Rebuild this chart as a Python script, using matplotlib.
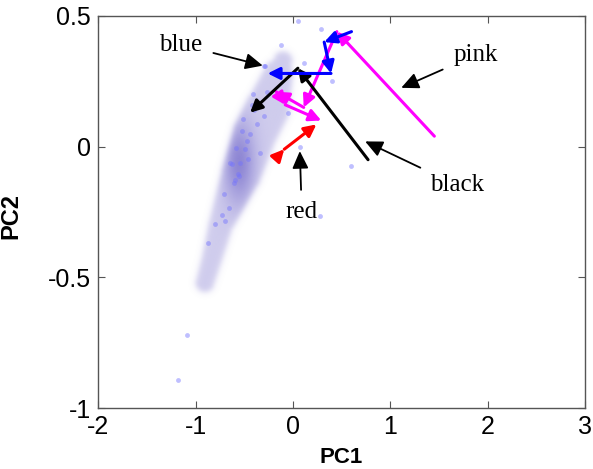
import numpy as np
import matplotlib
matplotlib.use('Agg')
import matplotlib.pyplot as plt

# trajectories in PC space (PC1, PC2)
blue_x = [0.60, 0.32, 0.39, -0.26]
blue_y = [0.44, 0.40, 0.28, 0.28]
pink_x = [1.45, 0.45, 0.11, -0.17, -0.08, 0.29]
pink_y = [0.04, 0.44, 0.15, 0.21, 0.16, 0.10]
red_x = [-0.15, -0.09, 0.24]
red_y = [-0.035, -0.01, 0.085]
black_x = [0.77, 0.05, -0.44]
black_y = [-0.05, 0.30, 0.13]

# annotation labels
labels = ['blue', 'pink', 'black', 'red']
label_x = [-1.15, 1.87, 1.68, 0.09]
label_y = [0.39, 0.35, -0.147, -0.25]
tip_x = [-0.31, 1.11, 0.74, 0.07]
tip_y = [0.31, 0.225, 0.02, -0.017]

# background samples
pts_x = [0.05, 0.29, -0.12, 0.11, -0.30, 0.40, -0.05, 0.07, 0.60, 0.28,
         -0.41, -0.51, -0.30, -0.37, -0.44, -0.47, -0.58, -0.49, -0.34, -0.65,
         -0.56, -0.61, -0.71, -0.66, -0.73, -0.70, -0.80, -0.54, -0.63, -0.46,
         -0.55, -0.59, -0.87, -0.27, -0.29, -1.09, -1.18, -0.42, -0.52, -0.40]
pts_y = [0.48, 0.45, 0.39, 0.32, 0.31, 0.25, 0.13, 0.00, -0.075, -0.266,
         0.20, 0.104, 0.117, 0.085, 0.047, 0.02, -0.005, -0.01, -0.024, -0.062,
         -0.106, -0.138, -0.183, -0.234, -0.262, -0.285, -0.295, -0.062, -0.066, -0.049,
         -0.113, -0.126, -0.368, 0.21, 0.31, -0.72, -0.894, 0.16, 0.06, 0.14]

# density ridge of the sample cloud (centre line and half width in px)
ridge_x = [-0.91, -0.84, -0.75, -0.54, -0.40, -0.27, -0.16, -0.11]
ridge_y = [-0.52, -0.43, -0.30, -0.105, 0.05, 0.147, 0.277, 0.33]
ridge_w = [9, 10, 12, 20, 22, 22, 15, 9]

fig = plt.figure(figsize=(5.93, 4.69), dpi=100)
ax = fig.add_axes([0.1653, 0.130, 0.822, 0.836])
ax.set_xlim(-2, 3)
ax.set_ylim(-1, 0.5)

# blob: distance from ridge polyline (y stretched to match screen aspect)
sy = 261.5 / 97.5
gx, gy = np.meshgrid(np.linspace(-1.4, 0.4, 500), np.linspace(-0.75, 0.5, 500))
d = np.full(gx.shape, 1e9)
w = np.zeros(gx.shape)
for i in range(len(ridge_x) - 1):
    ax0, ay0 = ridge_x[i], ridge_y[i] * sy
    bx0, by0 = ridge_x[i + 1], ridge_y[i + 1] * sy
    vx, vy = bx0 - ax0, by0 - ay0
    t = ((gx - ax0) * vx + (gy * sy - ay0) * vy) / (vx * vx + vy * vy)
    t = np.clip(t, 0, 1)
    dd = np.hypot(gx - (ax0 + t * vx), gy * sy - (ay0 + t * vy)) * 97.5
    ww = ridge_w[i] + t * (ridge_w[i + 1] - ridge_w[i])
    closer = dd - ww < d - w
    d = np.where(closer, dd, d)
    w = np.where(closer, ww, w)
edge = 1 / (1 + np.exp((d - w) / 1.8))
dc = np.hypot((gx + 0.56) * 97.5 / 1.0, (gy + 0.06) * 261.5 / 2.6)
core = edge * np.exp(-(dc / 16) ** 2)
rgba = np.zeros(gx.shape + (4,))
rgba[..., 0] = 110 / 255
rgba[..., 1] = 100 / 255
rgba[..., 2] = 200 / 255
rgba[..., 3] = np.clip(0.33 * edge + 0.45 * core, 0, 1)
ax.imshow(rgba, extent=[-1.4, 0.4, -0.75, 0.5], origin='lower',
          aspect='auto', interpolation='bilinear', zorder=1)

ax.plot(pts_x, pts_y, 'o', color=(0.45, 0.45, 1.0), alpha=0.45,
        markersize=3.5, markeredgewidth=0, zorder=2)


def draw_path(xs, ys, c):
    for i in range(len(xs) - 1):
        ax.annotate('', xy=(xs[i + 1], ys[i + 1]), xytext=(xs[i], ys[i]),
                    arrowprops=dict(arrowstyle='-|>,head_length=0.8,head_width=0.4',
                                    color=c, lw=2.2, mutation_scale=9,
                                    shrinkA=0, shrinkB=0), zorder=3)


draw_path(pink_x, pink_y, '#ff00ff')
draw_path(black_x, black_y, 'black')
draw_path(red_x, red_y, 'red')
draw_path(blue_x, blue_y, 'blue')

for lab, lx, ly, tx, ty in zip(labels, label_x, label_y, tip_x, tip_y):
    ax.annotate(lab, xy=(tx, ty), xytext=(lx, ly), ha='center', va='center',
                fontsize=18, family='Liberation Serif',
                arrowprops=dict(arrowstyle='-|>,head_length=0.75,head_width=0.35',
                                color='black', lw=1.3, mutation_scale=14,
                                shrinkA=6, shrinkB=0), zorder=4)

ax.set_xticks([-2, -1, 0, 1, 2, 3])
ax.set_yticks([-1, -0.5, 0, 0.5])
ax.set_yticklabels(['-1', '-0.5', '0', '0.5'])
ax.set_xticklabels(['-2', '-1', '0', '1', '2', '3'])
ax.tick_params(direction='in', top=True, right=True, length=5,
               labelsize=18, color='#555555', pad=5)
for lab in ax.get_xticklabels() + ax.get_yticklabels():
    lab.set_family('Liberation Sans')
for s in ax.spines.values():
    s.set_color('#555555')
    s.set_linewidth(1)
ax.set_xlabel('PC1', fontsize=16, fontweight='bold', family='Liberation Sans')
ax.set_ylabel('PC2', fontsize=17, fontweight='bold', family='Liberation Sans')
ax.xaxis.label.set_va('baseline')
ax.xaxis.set_label_coords(0.498, -0.140)
ax.yaxis.set_label_coords(-0.155, 0.49)

fig.savefig('out.png', dpi=100)
